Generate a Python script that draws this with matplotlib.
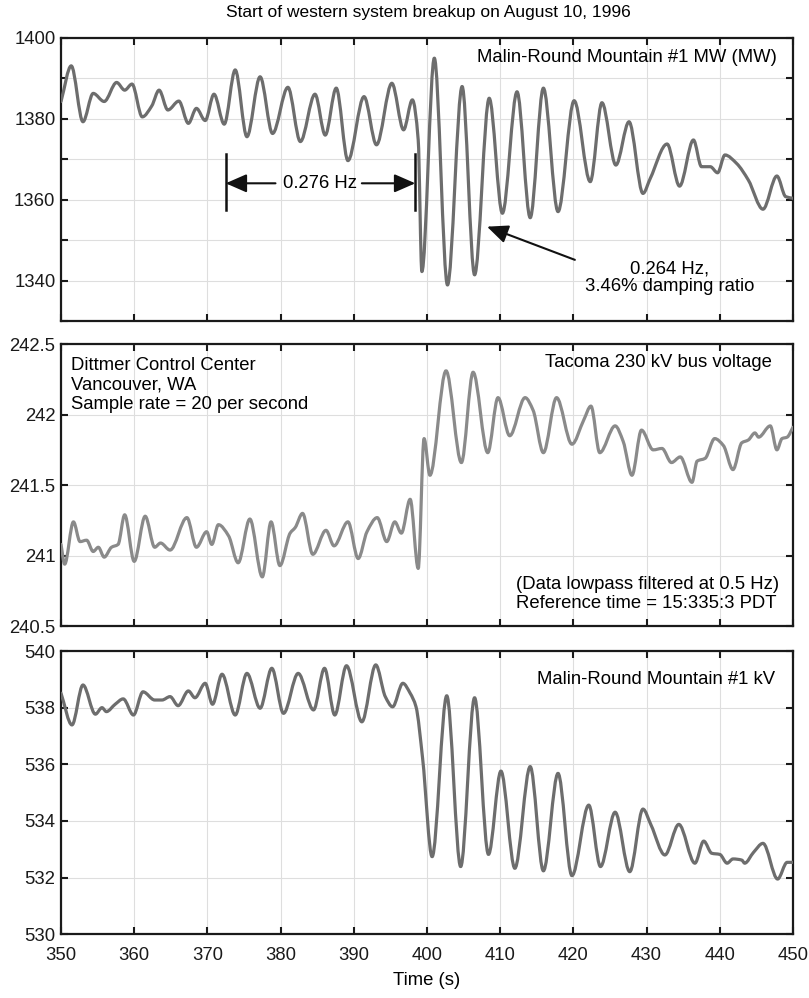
import numpy as np
import matplotlib
matplotlib.use("Agg")
import matplotlib.pyplot as plt
from matplotlib.path import Path
from matplotlib.patches import PathPatch

plt.rcParams['font.family'] = ['Liberation Sans', 'DejaVu Sans']
plt.rcParams['font.size'] = 13.3

# Malin-Round Mountain #1 real power (MW)
t_mw = [350.0, 351.4, 353.0, 354.4, 355.9, 357.6, 358.7, 359.7, 361.1, 362.4,
        363.4, 364.6, 366.1, 367.4, 368.5, 369.7, 370.9, 372.3, 373.8, 375.4,
        377.2, 378.9, 381.0, 382.7, 384.7, 386.1, 387.6, 389.2, 391.4, 393.1,
        395.2, 396.8, 398.0, 398.8, 399.3, 401.0, 402.8, 404.8, 406.5, 408.5,
        410.3, 412.3, 414.1, 415.9, 417.9, 420.1, 422.3, 423.9, 425.8, 427.6,
        429.5, 430.5, 432.8, 434.5, 436.4, 437.5, 438.7, 439.7, 440.7, 442.3,
        443.9, 445.9, 447.8, 449.0, 450.0]
mw = [1384.2, 1393.0, 1379.2, 1386.2, 1384.2, 1388.9, 1387.0, 1388.5, 1380.4, 1383.1,
      1387.0, 1382.1, 1384.3, 1378.8, 1382.5, 1379.5, 1386.0, 1378.6, 1392.0, 1375.5,
      1390.3, 1376.3, 1387.7, 1374.3, 1386.0, 1375.9, 1387.5, 1369.6, 1385.4, 1373.5,
      1388.7, 1377.2, 1384.6, 1374.7, 1342.2, 1394.9, 1338.9, 1387.9, 1341.4, 1385.0,
      1356.6, 1386.6, 1355.5, 1387.5, 1357.0, 1384.4, 1364.4, 1383.9, 1368.5, 1379.2,
      1361.5, 1365.2, 1373.7, 1363.3, 1374.7, 1368.1, 1368.1, 1366.6, 1371.0, 1368.9,
      1364.8, 1357.6, 1365.8, 1360.7, 1360.3]

# Tacoma 230 kV bus voltage (kV)
t_tac = [350.0, 350.5, 351.7, 352.6, 353.5, 354.4, 355.1, 355.9, 356.9, 357.8,
         358.7, 360.0, 361.5, 362.8, 363.6, 364.9, 367.2, 368.5, 369.9, 370.6,
         371.5, 372.9, 374.2, 375.8, 377.5, 378.7, 379.9, 381.3, 382.0, 383.0,
         384.4, 386.2, 387.3, 389.2, 390.6, 391.8, 393.2, 394.5, 395.6, 396.5,
         397.7, 398.8, 399.6, 400.4, 402.6, 404.7, 406.3, 408.3, 409.7, 411.3,
         413.4, 414.5, 415.9, 417.7, 419.8, 421.4, 422.4, 423.6, 425.7, 426.8,
         428.0, 429.3, 430.9, 432.1, 433.4, 434.6, 436.2, 436.9, 438.0, 439.3,
         440.5, 441.8, 443.0, 443.9, 444.8, 445.3, 446.9, 447.8, 448.5, 449.2,
         450.0]
v_tac = [241.08, 240.94, 241.24, 241.10, 241.11, 241.03, 241.06, 240.99, 241.06, 241.08,
         241.29, 240.96, 241.28, 241.06, 241.09, 241.04, 241.27, 241.06, 241.17, 241.08,
         241.22, 241.14, 240.95, 241.26, 240.85, 241.24, 240.93, 241.16, 241.20, 241.30,
         241.01, 241.18, 241.07, 241.24, 240.98, 241.17, 241.27, 241.10, 241.24, 241.16,
         241.40, 240.91, 241.83, 241.57, 242.31, 241.66, 242.30, 241.73, 242.12, 241.85,
         242.12, 242.03, 241.73, 242.12, 241.79, 241.96, 242.06, 241.73, 241.92, 241.81,
         241.57, 241.89, 241.75, 241.76, 241.66, 241.70, 241.52, 241.67, 241.69, 241.83,
         241.78, 241.61, 241.80, 241.82, 241.87, 241.84, 241.92, 241.75, 241.83, 241.84,
         241.91]

# Malin-Round Mountain #1 voltage (kV)
t_kv = [350.0, 351.5, 353.0, 354.7, 355.6, 356.2, 357.4, 358.5, 359.9, 361.2,
        362.8, 363.8, 364.9, 366.0, 367.4, 368.3, 369.7, 370.7, 372.0, 373.8,
        375.4, 377.2, 378.8, 380.4, 382.4, 384.5, 386.0, 387.4, 389.0, 391.1,
        393.0, 394.3, 395.3, 396.7, 397.7, 398.5, 399.4, 400.7, 402.7, 404.6,
        406.5, 408.4, 410.1, 412.0, 414.1, 415.9, 417.9, 419.8, 422.1, 423.7,
        425.7, 427.7, 429.5, 430.6, 432.5, 434.4, 436.6, 437.8, 438.9, 440.0,
        441.0, 441.8, 443.0, 443.4, 444.6, 445.9, 447.9, 449.2, 450.0]
v_kv = [538.51, 537.39, 538.80, 537.77, 538.00, 537.86, 538.12, 538.31, 537.74, 538.56,
        538.27, 538.27, 538.39, 538.07, 538.59, 538.35, 538.86, 538.12, 539.18, 537.74,
        539.21, 537.98, 539.39, 537.80, 539.21, 537.92, 539.39, 537.74, 539.48, 537.50,
        539.51, 538.39, 538.03, 538.86, 538.51, 538.03, 536.21, 532.74, 538.42, 532.39,
        538.35, 532.82, 535.76, 532.33, 535.92, 532.24, 535.68, 532.07, 534.56, 532.39,
        534.31, 532.21, 534.42, 533.86, 532.80, 533.88, 532.51, 533.29, 532.86, 532.82,
        532.51, 532.66, 532.62, 532.51, 532.89, 533.21, 531.95, 532.54, 532.54]

# Oscillation interval marked on the MW trace
mode_start, mode_end = 372.5, 398.4


def smooth_path(t, v):
    """Monotone cubic (Fritsch-Carlson) curve through the samples as Bezier segments."""
    t = np.asarray(t, float)
    v = np.asarray(v, float)
    h = np.diff(t)
    d = np.diff(v) / h
    n = len(t)
    m = np.zeros(n)
    m[0], m[-1] = d[0], d[-1]
    for i in range(1, n - 1):
        if d[i - 1] * d[i] > 0:
            w1 = 2 * h[i] + h[i - 1]
            w2 = h[i] + 2 * h[i - 1]
            m[i] = (w1 + w2) / (w1 / d[i - 1] + w2 / d[i])
    verts = [(t[0], v[0])]
    codes = [Path.MOVETO]
    for i in range(n - 1):
        verts += [(t[i] + h[i] / 3, v[i] + m[i] * h[i] / 3),
                  (t[i + 1] - h[i] / 3, v[i + 1] - m[i + 1] * h[i] / 3),
                  (t[i + 1], v[i + 1])]
        codes += [Path.CURVE4] * 3
    return Path(verts, codes)


def trace(ax, t, v, color):
    ax.add_patch(PathPatch(smooth_path(t, v), fill=False, edgecolor=color,
                           lw=2.3, capstyle='round', joinstyle='round', zorder=3))


W, H = 809, 998
fig = plt.figure(figsize=(W / 100, H / 100), dpi=100)

left, width = 61 / W, 732 / W
ax1 = fig.add_axes([left, 1 - 321 / H, width, 283.5 / H])
ax2 = fig.add_axes([left, 1 - 626.3 / H, width, 282.3 / H])
ax3 = fig.add_axes([left, 1 - 934.3 / H, width, 283.3 / H])

for ax in (ax1, ax2, ax3):
    ax.set_xlim(350, 450)
    ax.set_xticks(np.arange(350, 451, 10))
    ax.grid(True, color='#dedede', lw=0.8, zorder=0)
    ax.tick_params(direction='in', length=5, width=1.5, top=True, right=True,
                   colors='#1a1a1a', labelcolor='#1a1a1a', pad=4)
    ax.tick_params(axis='x', pad=9)
    for s in ax.spines.values():
        s.set_linewidth(1.6)
        s.set_color('#1a1a1a')
    ax.set_axisbelow(True)

ax1.tick_params(labelbottom=False)
ax2.tick_params(labelbottom=False)

# Panel 1: MW
trace(ax1, t_mw, mw, '#6d6d6d')
ax1.set_ylim(1330, 1400)
ax1.set_yticks(np.arange(1330, 1401, 10))
ax1.set_yticklabels(['' if v % 20 else str(v) for v in range(1330, 1401, 10)])
ax1.text(0.978, 0.931, 'Malin-Round Mountain #1 MW (MW)', transform=ax1.transAxes,
         ha='right', va='center')
bar_lo, bar_hi, arrow_y = 1357.4, 1371.2, 1364.0
ax1.plot([mode_start, mode_start], [bar_lo, bar_hi], color='#111111', lw=1.8)
ax1.plot([mode_end, mode_end], [bar_lo, bar_hi], color='#111111', lw=1.8)
ax1.text(385.4, arrow_y, '0.276 Hz', ha='center', va='center')
astyle = dict(arrowstyle='-|>,head_length=0.8,head_width=0.35', color='#111111',
              lw=1.5, mutation_scale=16, shrinkA=0, shrinkB=0)
ax1.annotate('', xy=(mode_start, arrow_y), xytext=(379.3, arrow_y), arrowprops=astyle)
ax1.annotate('', xy=(mode_end, arrow_y), xytext=(391.1, arrow_y), arrowprops=astyle)
ax1.annotate('', xy=(408.2, 1353.3), xytext=(420.2, 1345.1), arrowprops=astyle)
ax1.text(433.2, 1340.7, '0.264 Hz,\n3.46% damping ratio', ha='center', va='center',
         linespacing=1.1)

# Panel 2: Tacoma bus voltage
trace(ax2, t_tac, v_tac, '#8a8a8a')
ax2.set_ylim(240.5, 242.5)
ax2.set_yticks([240.5, 241, 241.5, 242, 242.5])
ax2.set_yticklabels(['240.5', '241', '241.5', '242', '242.5'])
ax2.text(0.0137, 0.855, 'Dittmer Control Center\nVancouver, WA\nSample rate = 20 per second',
         transform=ax2.transAxes, ha='left', va='center', linespacing=1.2)
ax2.text(0.971, 0.933, 'Tacoma 230 kV bus voltage', transform=ax2.transAxes,
         ha='right', va='center')
ax2.text(0.6216, 0.114, '(Data lowpass filtered at 0.5 Hz)\nReference time = 15:335:3 PDT',
         transform=ax2.transAxes, ha='left', va='center', linespacing=1.2)

# Panel 3: Malin kV
trace(ax3, t_kv, v_kv, '#6d6d6d')
ax3.set_ylim(530, 540)
ax3.set_yticks(np.arange(530, 541, 2))
ax3.text(0.975, 0.898, 'Malin-Round Mountain #1 kV', transform=ax3.transAxes,
         ha='right', va='center')
ax3.set_xlabel('Time (s)', labelpad=6)

fig.text(0.529, 1 - 12 / H, 'Start of western system breakup on August 10, 1996',
         ha='center', va='center', fontsize=12.5)

fig.savefig('out.png', dpi=100)
